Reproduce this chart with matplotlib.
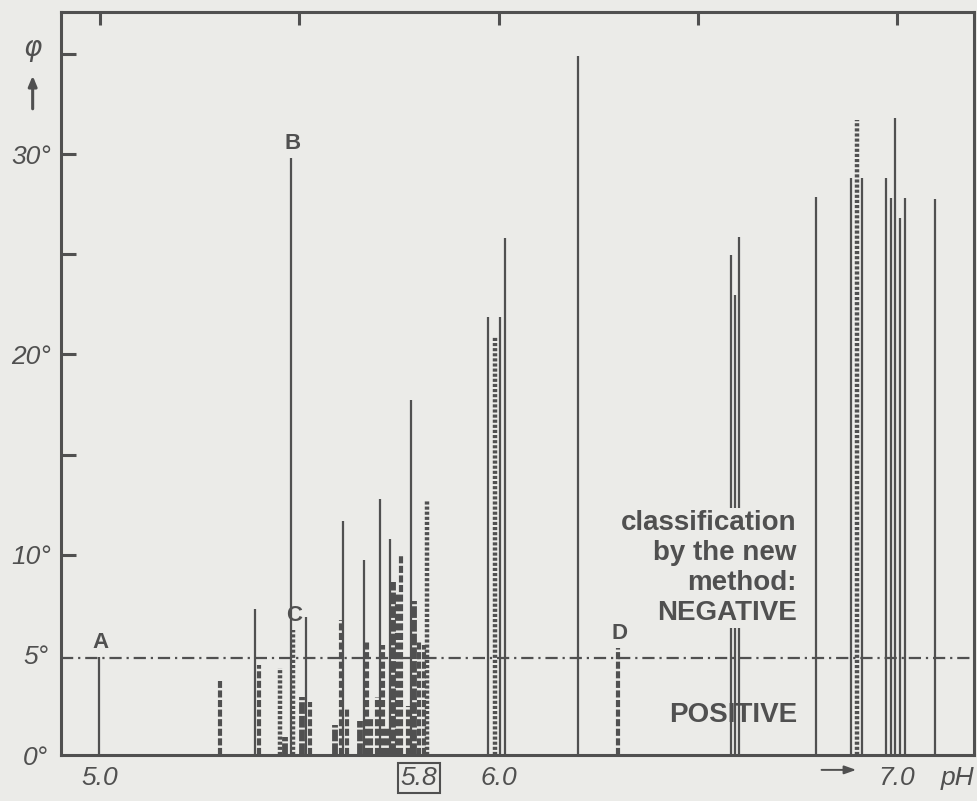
import matplotlib.pyplot as plt

# pH position, angle phi (degrees) and line kind for every measured sample
# kind: s = solid, d = dashed, o = dotted, b = dense dashed block
ph = [4.997, 5.301, 5.389, 5.399, 5.452, 5.464, 5.479, 5.484, 5.507, 5.517,
      5.527, 5.590, 5.605, 5.610, 5.620, 5.652, 5.662, 5.670, 5.680, 5.695,
      5.703, 5.710, 5.720, 5.728, 5.735, 5.745, 5.755, 5.773, 5.780, 5.788,
      5.800, 5.813, 5.821, 5.974, 5.991, 6.004, 6.016, 6.199, 6.300, 6.583,
      6.593, 6.604, 6.797, 6.885, 6.900, 6.912, 6.972, 6.985, 6.995, 7.008,
      7.020, 7.095]
phi = [4.9, 3.7, 7.3, 4.5, 4.35, 0.9, 29.8, 6.25, 2.9, 6.9,
       2.65, 1.5, 6.75, 11.7, 2.35, 1.7, 9.75, 5.65, 1.9, 2.9,
       12.8, 5.5, 1.35, 10.8, 8.65, 8.1, 10.0, 2.45, 17.75, 7.7,
       5.65, 5.5, 12.7, 21.85, 20.9, 21.85, 25.8, 34.9, 5.35, 24.95,
       22.95, 25.85, 27.85, 28.8, 31.7, 28.8, 28.8, 27.8, 31.8, 26.8,
       27.8, 27.75]
kind = ['s', 'd', 's', 'd', 'o', 'b', 's', 'o', 'b', 's',
        'd', 'b', 'd', 's', 'd', 'b', 's', 'd', 'd', 'd',
        's', 'd', 'd', 's', 'b', 'd', 'd', 'd', 's', 'b',
        'd', 'd', 'o', 's', 'o', 's', 's', 's', 'd', 's',
        's', 's', 's', 's', 'o', 's', 's', 's', 's', 's',
        's', 's']

# letters marking single samples (index into the lists above)
tags = {'A': 0, 'B': 6, 'C': 7, 'D': 38}

limit_phi = 4.85           # dash-dot classification limit
ph_ticks = [5.0, 5.8, 6.0, 7.0]
ph_labels = ['5.0', '5.8', '6.0', '7.0']
top_ticks = [5.0, 5.5, 6.0, 6.5, 7.0]

bg = '#ebebe8'
ink = '#505050'

styles = {
    's': dict(linewidths=1.6, linestyles='solid'),
    'd': dict(linewidths=3.0, linestyles=[(0, (1.7, 0.6))]),
    'o': dict(linewidths=3.2, linestyles=[(0, (0.7, 0.45))]),
    'b': dict(linewidths=4.2, linestyles=[(0, (2.0, 0.35))]),
}

fig = plt.figure(figsize=(9.77, 8.01), dpi=100, facecolor=bg)
ax = fig.add_axes([0.0624, 0.0574, 0.9345, 0.9276], facecolor=bg)

for k, st in styles.items():
    xs = [p for p, kk in zip(ph, kind) if kk == k]
    ys = [v for v, kk in zip(phi, kind) if kk == k]
    ax.vlines(xs, 0, ys, colors=ink, zorder=2, **st)

ax.axhline(limit_phi, color=ink, lw=1.6, ls=(0, (5.5, 2.2, 1.0, 2.2)), zorder=1)

for name, i in tags.items():
    ax.annotate(name, (ph[i], phi[i]), xytext=(1, 3), textcoords='offset points',
                ha='center', va='bottom', fontsize=16, fontweight='bold',
                family='Liberation Sans', color=ink, zorder=5)

ax.set_xlim(4.902, 7.193)
ax.set_ylim(0, 37.1)

for s in ax.spines.values():
    s.set_color(ink)
    s.set_linewidth(2.2)

# top ticks only, no labels
ax.set_xticks(top_ticks)
ax.tick_params(axis='x', bottom=False, top=True, labelbottom=False,
               direction='in', length=9, width=2.2, color=ink)

ax.set_yticks([10, 15, 20, 25, 30, 35], labels=['10°', '', '20°', '', '30°', ''])
ax.set_yticks([0, 5], labels=['0°', '5°'], minor=True)
ax.tick_params(axis='y', which='major', direction='in', length=11, width=2.2,
               color=ink, pad=7)
ax.tick_params(axis='y', which='minor', length=0, pad=9)
for t in ax.get_yticklabels(which='both'):
    t.set_fontsize(19)
    t.set_fontstyle('italic')
    t.set_family('Liberation Sans')
    t.set_color(ink)

trans = ax.get_xaxis_transform()
for p, lab in zip(ph_ticks, ph_labels):
    t = ax.text(p, -0.031, lab, transform=trans, ha='center', va='center',
                fontsize=19, style='italic', family='Liberation Sans', color=ink,
                clip_on=False)
    if lab == '5.8':
        t.set_bbox(dict(boxstyle='square,pad=0.1', fc='none', ec=ink, lw=1.5))

ax.text(0.982, -0.031, 'pH', transform=ax.transAxes, ha='center', va='center',
        fontsize=19, style='italic', family='Liberation Sans', color=ink)
ax.annotate('', xy=(0.874, -0.02), xytext=(0.83, -0.02), xycoords='axes fraction',
            arrowprops=dict(arrowstyle='-|>,head_length=0.7,head_width=0.25',
                            color=ink, lw=1.4))

ax.text(-0.031, 0.952, 'φ', transform=ax.transAxes, ha='center', va='center',
        fontsize=20, style='italic', family='DejaVu Sans', color=ink)
ax.annotate('', xy=(-0.031, 0.918), xytext=(-0.031, 0.866), xycoords='axes fraction',
            arrowprops=dict(arrowstyle='-|>,head_length=0.6,head_width=0.25',
                            color=ink, lw=2.2))

ax.text(0.806, 0.252, 'classification\nby the new\nmethod:\nNEGATIVE',
        transform=ax.transAxes, ha='right', va='center', multialignment='right',
        fontsize=20, fontweight='bold', family='Liberation Sans', color=ink,
        linespacing=1.2, zorder=3,
        bbox=dict(boxstyle='square,pad=0.08', fc=bg, ec='none'))
ax.text(0.806, 0.054, 'POSITIVE', transform=ax.transAxes, ha='right', va='center',
        fontsize=20, fontweight='bold', family='Liberation Sans', color=ink, zorder=3)

fig.savefig('out.png', dpi=100, facecolor=bg)
